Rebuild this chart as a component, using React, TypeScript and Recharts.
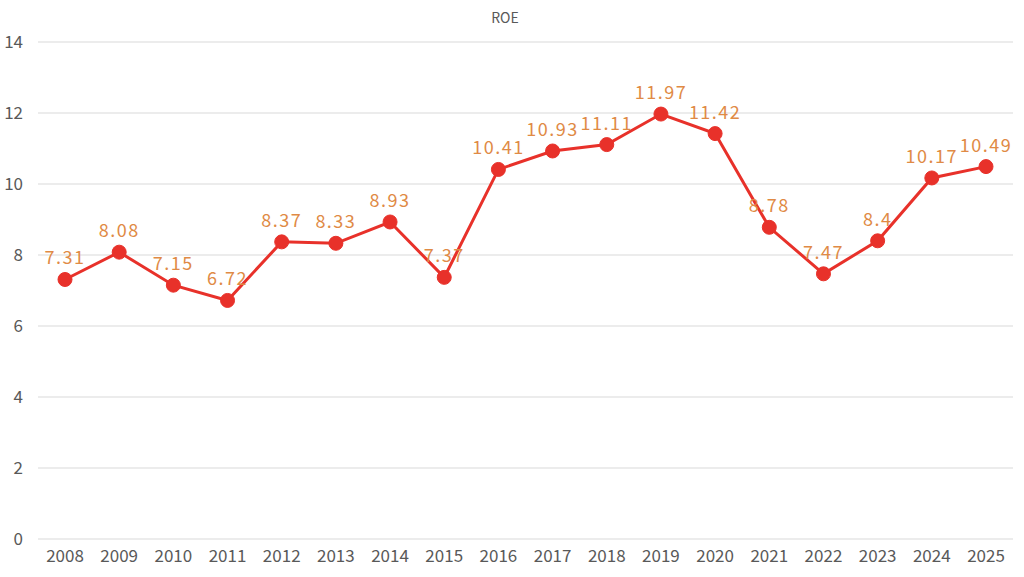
import { LineChart, Line, XAxis, YAxis, CartesianGrid, LabelList } from "recharts";

const years = [
  "2008", "2009", "2010", "2011", "2012", "2013", "2014", "2015", "2016",
  "2017", "2018", "2019", "2020", "2021", "2022", "2023", "2024", "2025",
];
const roe = [
  7.31, 8.08, 7.15, 6.72, 8.37, 8.33, 8.93, 7.37, 10.41,
  10.93, 11.11, 11.97, 11.42, 8.78, 7.47, 8.4, 10.17, 10.49,
];
const yTicks = [0, 2, 4, 6, 8, 10, 12, 14];

const FONT = '"Noto Sans CJK JP", "Noto Sans", sans-serif';

export default function App() {
  const rows = years.map((y, i) => ({ year: y, roe: roe[i] }));

  return (
    <div style={{ position: "absolute", left: 0, top: 0, width: 1024, height: 577, background: "#fff", fontFamily: FONT }}>
      <div
        style={{
          position: "absolute",
          left: 0,
          width: 1010,
          top: 7,
          textAlign: "center",
          fontSize: 14,
          color: "#595959",
        }}
      >
        ROE
      </div>
      <LineChart
        width={1024}
        height={577}
        data={rows}
        margin={{ top: 42, right: 11, left: 0, bottom: 0 }}
      >
        <CartesianGrid vertical={false} stroke="#d9d9d9" />
        <XAxis
          dataKey="year"
          axisLine={false}
          tickLine={false}
          tickSize={0}
          tickMargin={11}
          interval={0}
          height={38}
          padding={{ left: 27, right: 27 }}
          tick={{ fontSize: 17, fill: "#595959", fontFamily: FONT }}
        />
        <YAxis
          domain={[0, 14]}
          ticks={yTicks}
          axisLine={false}
          tickLine={false}
          tickSize={0}
          tickMargin={15}
          width={38}
          tick={{ fontSize: 17, fill: "#595959", fontFamily: FONT }}
        />
        <Line
          type="linear"
          dataKey="roe"
          stroke="#e8312a"
          strokeWidth={3}
          dot={{ r: 7, fill: "#e8312a", stroke: "#e8312a", strokeWidth: 1 }}
          activeDot={false}
          isAnimationActive={false}
        >
          <LabelList
            dataKey="roe"
            position="top"
            offset={15}
            style={{ fontSize: 18, fill: "#e08a45", fontFamily: FONT, letterSpacing: 1.5 }}
          />
        </Line>
      </LineChart>
    </div>
  );
}
